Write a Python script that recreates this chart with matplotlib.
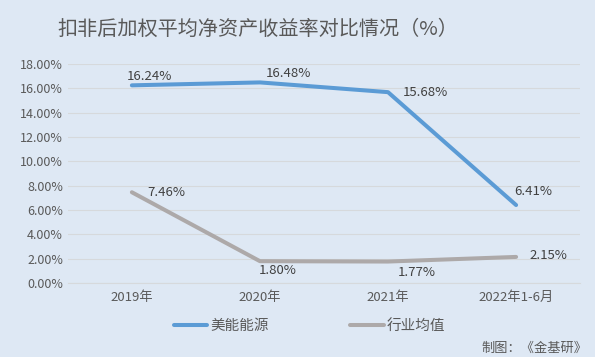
import matplotlib
matplotlib.use('Agg')
import matplotlib.pyplot as plt
from matplotlib.ticker import PercentFormatter

plt.rcParams['font.family'] = ['Noto Sans CJK SC', 'DejaVu Sans']

categories = ['2019年', '2020年', '2021年', '2022年1-6月']
meineng = [16.24, 16.48, 15.68, 6.41]
industry = [7.46, 1.80, 1.77, 2.15]
# label offsets in pixels from each point
meineng_offsets = [(-5, 9), (6, 9), (15, 0), (-2, 14)]
industry_offsets = [(15, 0), (-1, -9), (10, -11), (13, 1)]

bg = '#DEE8F4'
fig = plt.figure(figsize=(5.95, 3.57), dpi=100, facecolor=bg)
ax = fig.add_axes([0.114, 0.207, 0.861, 0.614], facecolor=bg)

x = range(len(categories))
ax.plot(x, meineng, color='#5B9BD5', lw=2.9, solid_capstyle='round', label='美能能源')
ax.plot(x, industry, color='#ADA9A9', lw=2.9, solid_capstyle='round', label='行业均值')

for i, v in enumerate(meineng):
    ax.annotate(f'{v:.2f}%', (i, v), xytext=meineng_offsets[i], textcoords='offset pixels',
                fontsize=9.5, color='#404040', va='center', ha='left')
for i, v in enumerate(industry):
    ax.annotate(f'{v:.2f}%', (i, v), xytext=industry_offsets[i], textcoords='offset pixels',
                fontsize=9.5, color='#404040', va='center', ha='left')

ax.set_xlim(-0.5, 3.5)
ax.set_ylim(0, 18)
ax.set_yticks(range(0, 19, 2))
ax.yaxis.set_major_formatter(PercentFormatter(decimals=2))
ax.set_xticks(list(x))
ax.set_xticklabels(categories)
ax.tick_params(axis='both', length=0, labelsize=9, labelcolor='#595959')
ax.tick_params(axis='x', pad=6, labelsize=9.5)
ax.grid(axis='y', color='#D6D9DC', lw=0.8)
ax.set_axisbelow(True)
for s in ['top', 'right', 'left']:
    ax.spines[s].set_visible(False)
ax.spines['bottom'].set_color('#D6D9DC')

fig.text(0.433, 0.919, '扣非后加权平均净资产收益率对比情况（%）', ha='center', va='center',
         fontsize=14.5, color='#595959')
fig.legend(loc='center', bbox_to_anchor=(0.52, 0.087), ncol=2, frameon=False,
           fontsize=10.5, handlelength=2.3, columnspacing=5.6, handletextpad=0.2,
           labelcolor='#595959')
fig.text(0.987, 0.025, '制图：《金基研》', ha='right', va='center', fontsize=9.5, color='#595959')

fig.savefig('out.png', dpi=100, facecolor=bg)
